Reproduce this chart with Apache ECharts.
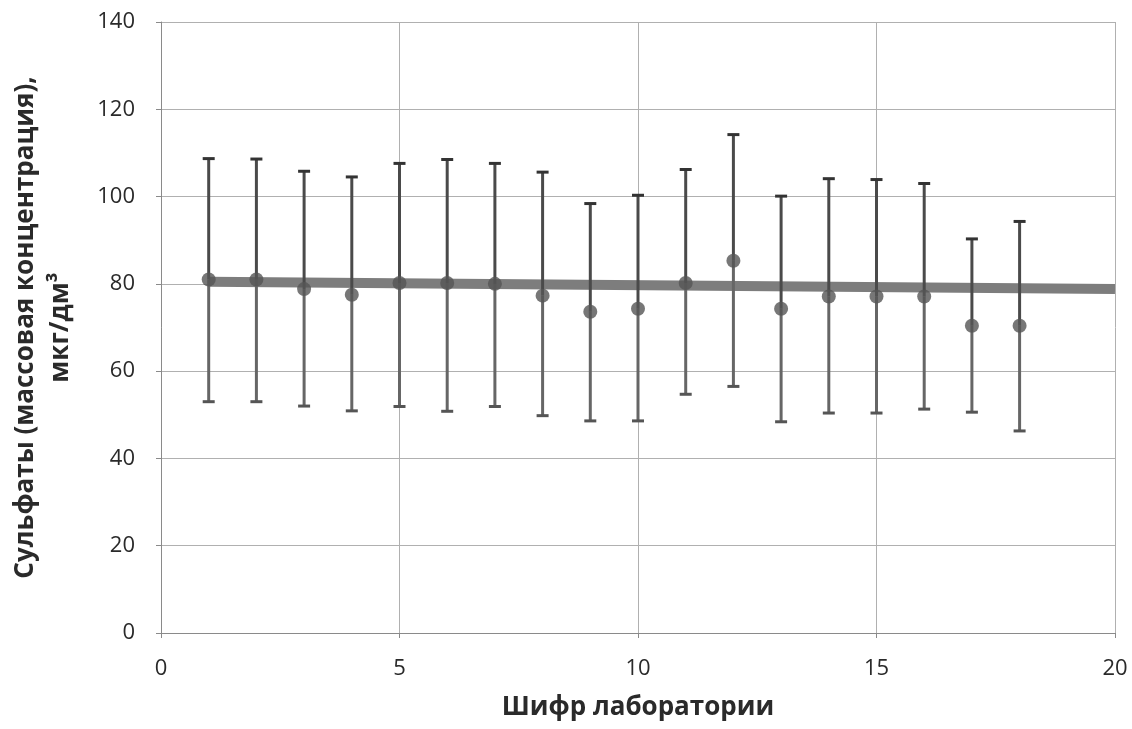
<!DOCTYPE html>
<html><head><meta charset="utf-8">
<script src="https://cdn.jsdelivr.net/npm/echarts@6/dist/echarts.min.js"></script>
<style>html,body{margin:0;padding:0;background:#fff}#c{width:1132px;height:729px}</style>
</head><body><div id="c"></div>
<script>
// Laboratory codes
const labs = [1,2,3,4,5,6,7,8,9,10,11,12,13,14,15,16,17,18];
// Measured mean values
const means = [81,81,78.8,77.5,80.2,80.2,80,77.3,73.6,74.3,80.2,85.3,74.3,77.1,77.1,77.1,70.4,70.4];
// Upper and lower error-bar limits
const upper = [108.7,108.6,105.8,104.5,107.6,108.5,107.6,105.6,98.4,100.3,106.2,114.2,100.1,104.1,103.9,103,90.3,94.3];
const lower = [53,53,52,50.9,51.9,50.8,51.9,49.8,48.6,48.6,54.7,56.5,48.4,50.4,50.4,51.3,50.6,46.3];
// Reference (assigned value) line
const refX = [1,20];
const refY = [80.5,78.8];
// Tick values
const xTicks = [0,5,10,15,20];
const yTicks = [0,20,40,60,80,100,120,140];

const errData = labs.map((l,i)=>[l, lower[i], means[i], upper[i]]);
const chart = echarts.init(document.getElementById('c'));
const gridColor = '#b0b0b0';
const font = '"Open Sans", sans-serif';
chart.setOption({
  backgroundColor:'#fff',
  animation:false,
  grid:{left:160,right:17,top:22,bottom:96},
  xAxis:{type:'value',min:0,max:20,interval:5,
    axisLine:{show:true,lineStyle:{color:'#8a8a8a',width:1}},
    axisTick:{show:true,length:5,lineStyle:{color:'#8a8a8a'}},
    splitLine:{show:true,lineStyle:{color:gridColor,width:1}},
    axisLabel:{fontSize:22,color:'#2a2a2a',margin:25,fontFamily:font,
      formatter:v=>xTicks.includes(v)?String(v):''},
    name:'Шифр лаборатории',nameLocation:'middle',nameGap:62,
    nameTextStyle:{fontSize:26,fontWeight:'bold',color:'#2a2a2a',fontFamily:font}
  },
  yAxis:{type:'value',min:0,max:140,interval:20,
    axisLine:{show:true,lineStyle:{color:'#8a8a8a',width:1}},
    axisTick:{show:true,length:5,lineStyle:{color:'#8a8a8a'}},
    splitLine:{show:true,lineStyle:{color:gridColor,width:1}},
    axisLabel:{fontSize:22,color:'#2a2a2a',margin:26,fontFamily:font,
      formatter:v=>yTicks.includes(v)?String(v):''},
    name:'Сульфаты (массовая концентрация),\nмкг/дм³',nameLocation:'middle',nameGap:83,
    nameTextStyle:{fontSize:26,fontWeight:'bold',color:'#2a2a2a',lineHeight:35,fontFamily:font}
  },
  series:[
    {type:'line',data:refX.map((x,i)=>[x,refY[i]]),symbol:'none',
      lineStyle:{color:'#7d7d7d',width:10},z:2},
    {type:'custom',z:3,data:errData,
      renderItem:function(params,api){
        const x=api.value(0);
        const pLo=api.coord([x,api.value(1)]);
        const pMid=api.coord([x,api.value(2)]);
        const pHi=api.coord([x,api.value(3)]);
        const hw=6;
        return {type:'group',children:[
          {type:'line',shape:{x1:pLo[0],y1:pLo[1],x2:pMid[0],y2:pMid[1]},style:{stroke:'#666',lineWidth:3}},
          {type:'line',shape:{x1:pMid[0],y1:pMid[1],x2:pHi[0],y2:pHi[1]},style:{stroke:'#4a4a4a',lineWidth:3}},
          {type:'line',shape:{x1:pHi[0]-hw,y1:pHi[1],x2:pHi[0]+hw,y2:pHi[1]},style:{stroke:'#333',lineWidth:3}},
          {type:'line',shape:{x1:pLo[0]-hw,y1:pLo[1],x2:pLo[0]+hw,y2:pLo[1]},style:{stroke:'#555',lineWidth:3}}
        ]};
      }},
    {type:'scatter',z:4,data:labs.map((l,i)=>[l,means[i]]),symbol:'circle',symbolSize:14,
      itemStyle:{color:'#555'}}
  ]
});
</script></body></html>
